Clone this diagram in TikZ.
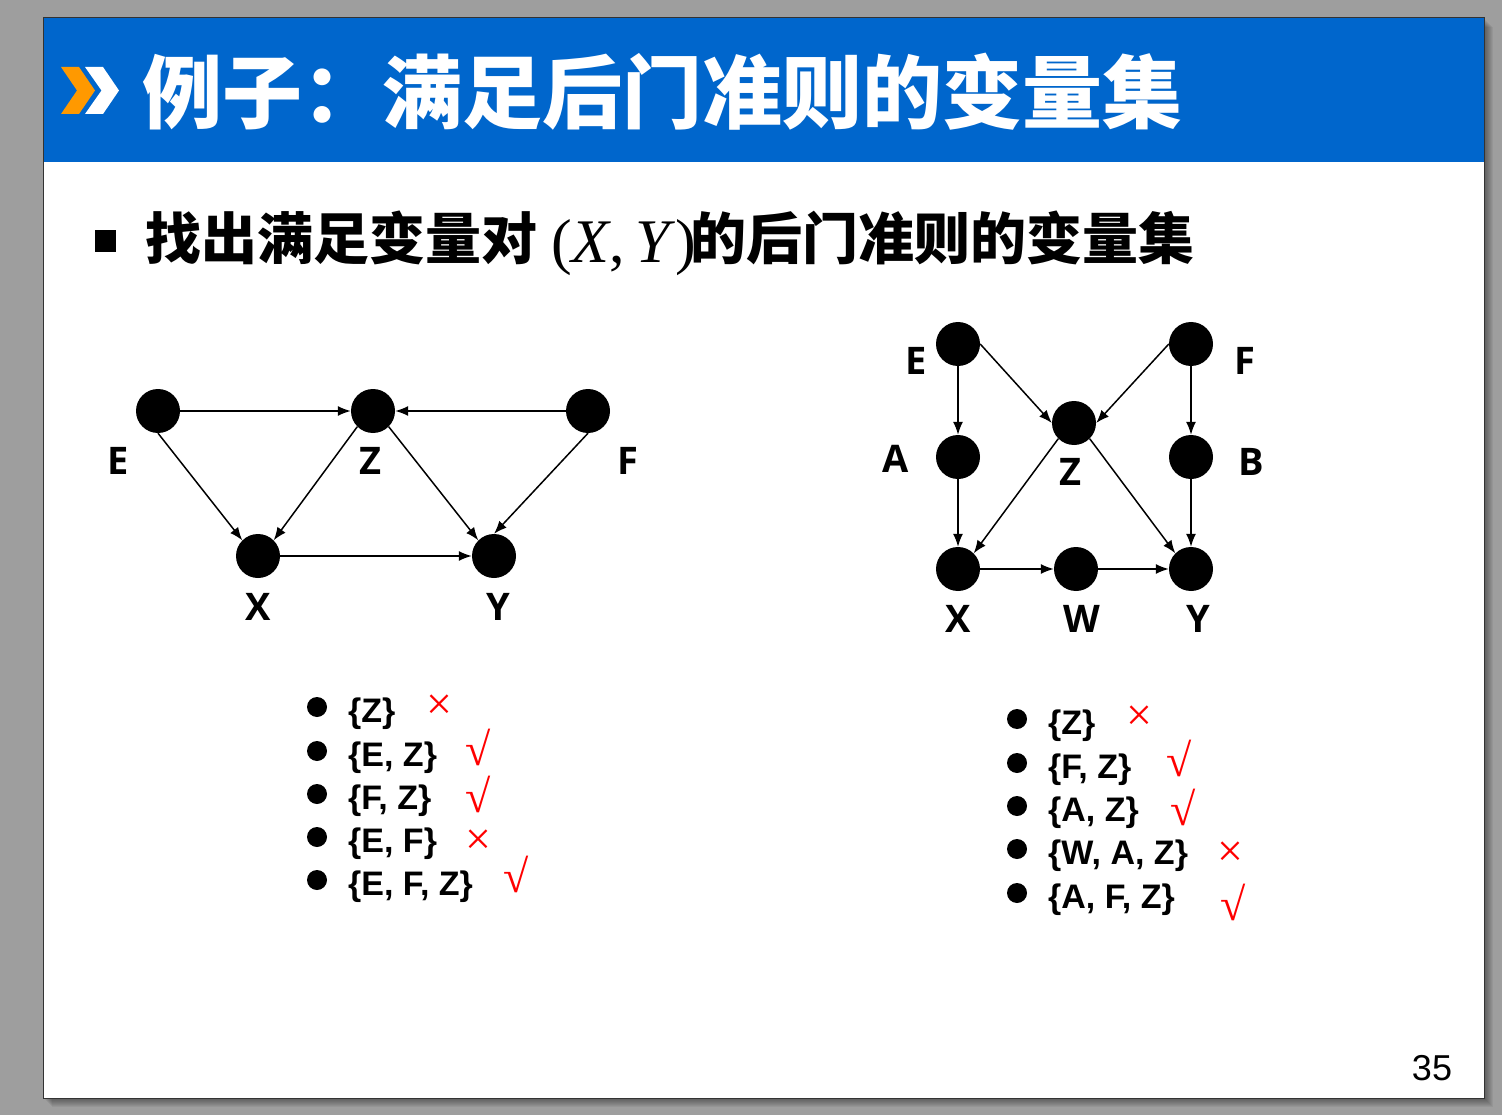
\documentclass[tikz,border=0pt]{standalone}
\usepackage{fontspec}
\setmainfont{Liberation Sans}
\newfontfamily\cjk{Noto Sans CJK SC}
\newfontfamily\serif{Liberation Serif}
\newfontfamily\labelfont{Open Sans}
\usetikzlibrary{arrows.meta}
\definecolor{headblue}{HTML}{0066CC}
\definecolor{pagegray}{RGB}{158,158,158}
\definecolor{chevorange}{HTML}{FF9900}
\definecolor{markred}{HTML}{FF0000}

\begin{document}
\begin{tikzpicture}[x=1pt,y=-1pt,
  vertex/.style={circle,fill=black,minimum size=44pt,inner sep=0pt},
  vlabel/.style={font=\labelfont\bfseries\fontsize{38}{38}\selectfont,inner sep=0pt},
  edge/.style={-{Latex[length=13pt,width=10pt]},line width=1.5pt},
  dot/.style={circle,fill=black,minimum size=20pt,inner sep=0pt},
  item/.style={anchor=base west,inner sep=0pt,font=\fontsize{34}{34}\selectfont\bfseries},
  cross/.style={text=markred,inner sep=0pt,font=\serif\fontsize{46}{46}\selectfont},
  tick/.style={text=markred,inner sep=0pt,font=\serif\fontsize{46}{46}\selectfont},
]
\useasboundingbox (0,0) rectangle (1502,1115);
% backdrop and slide with its drop shadow
\fill[pagegray] (0,0) rectangle (1502,1115);
\foreach \i in {1,...,9}
  \fill[black,opacity=0.05] (43+\i,18+\i) rectangle (1484+\i,1098+\i);
\fill[white] (43,18) rectangle (1484,1098);
\fill[headblue] (43,18) rectangle (1484,162);
\draw[gray!40!black,line width=1pt] (43,18) rectangle (1484,1098);

% header chevrons and title
\fill[chevorange] (61,67) -- (79,67) -- (95,90.5) -- (79,114) -- (61,114) -- (77,90.5) -- cycle;
\fill[white] (85,67) -- (103,67) -- (119,90.5) -- (103,114) -- (85,114) -- (101.5,90.5) -- cycle;
\node[anchor=base west,inner sep=0pt,text=white,font=\cjk\bfseries\fontsize{80}{80}\selectfont] (title) at (142,123) {例子：满足后门准则的变量集};

% question line
\fill (95,230) rectangle (116,252);
\node[anchor=base west,inner sep=0pt,font=\cjk\bfseries\fontsize{56}{56}\selectfont] (q1) at (145,260) {找出满足变量对};
\node[anchor=base west,inner sep=0pt,font=\serif\fontsize{62}{62}\selectfont] (q2) at (551,263) {(\textit{X},\,\textit{Y})};
\node[anchor=base west,inner sep=0pt,font=\cjk\bfseries\fontsize{56}{56}\selectfont] (q3) at (690,260) {的后门准则的变量集};

% left graph
\node[vertex] (lE) at (158,411) {};
\node[vertex] (lZ) at (373,411) {};
\node[vertex] (lF) at (588,411) {};
\node[vertex] (lX) at (258,556) {};
\node[vertex] (lY) at (494,556) {};
\node[vlabel] (lEl) at (118,461) {E};
\node[vlabel] (lZl) at (370,461) {Z};
\node[vlabel] (lFl) at (628,461) {F};
\node[vlabel] (lXl) at (258,607) {X};
\node[vlabel] (lYl) at (498,607) {Y};
\draw[edge] (lE.east) -- (lZ.west);
\draw[edge] (lF.west) -- (lZ.east);
\draw[edge] (lE.south) -- (lX.north west);
\draw[edge] (lZ.south west) -- (lX.north east);
\draw[edge] (lZ.south east) -- (lY.north west);
\draw[edge] (lF.south) -- (lY.north);
\draw[edge] (lX.east) -- (lY.west);

% right graph
\node[vertex] (rE) at (958,344) {};
\node[vertex] (rF) at (1191,344) {};
\node[vertex] (rZ) at (1074,423) {};
\node[vertex] (rA) at (958,457) {};
\node[vertex] (rB) at (1191,457) {};
\node[vertex] (rX) at (958,569) {};
\node[vertex] (rW) at (1076,569) {};
\node[vertex] (rY) at (1191,569) {};
\node[vlabel] (rEl) at (916,361) {E};
\node[vlabel] (rFl) at (1245,361) {F};
\node[vlabel] (rAl) at (896,459) {A};
\node[vlabel] (rZl) at (1070,472) {Z};
\node[vlabel] (rBl) at (1251,462) {B};
\node[vlabel] (rXl) at (958,619) {X};
\node[vlabel] (rWl) at (1082,619) {W};
\node[vlabel] (rYl) at (1198,619) {Y};
\draw[edge] (rE.south) -- (rA.north);
\draw[edge] (rE.east) -- (rZ.west);
\draw[edge] (rF.west) -- (rZ.east);
\draw[edge] (rF.south) -- (rB.north);
\draw[edge] (rA.south) -- (rX.north);
\draw[edge] (rZ.south west) -- (rX.north east);
\draw[edge] (rZ.south east) -- (rY.north west);
\draw[edge] (rB.south) -- (rY.north);
\draw[edge] (rX.east) -- (rW.west);
\draw[edge] (rW.east) -- (rY.west);

% left list
\node[dot] (la1) at (317,707) {};
\node[dot] (la2) at (317,751) {};
\node[dot] (la3) at (317,794) {};
\node[dot] (la4) at (317,837) {};
\node[dot] (la5) at (317,880) {};
\node[item] (lt1) at (348,722) {\{Z\}};
\node[item] (lt2) at (348,766) {\{E, Z\}};
\node[item] (lt3) at (348,809) {\{F, Z\}};
\node[item] (lt4) at (348,852) {\{E, F\}};
\node[item] (lt5) at (348,895) {\{E, F, Z\}};
\node[cross] (lm1) at (439,707) {×};
\node[tick] (lm2) at (478,747) {√};
\node[tick] (lm3) at (478,794) {√};
\node[cross] (lm4) at (478,842) {×};
\node[tick] (lm5) at (516,874) {√};

% right list
\node[dot] (ra1) at (1017,719) {};
\node[dot] (ra2) at (1017,763) {};
\node[dot] (ra3) at (1017,806) {};
\node[dot] (ra4) at (1017,849) {};
\node[dot] (ra5) at (1017,893) {};
\node[item] (rt1) at (1048,734) {\{Z\}};
\node[item] (rt2) at (1048,778) {\{F, Z\}};
\node[item] (rt3) at (1048,821) {\{A, Z\}};
\node[item] (rt4) at (1048,864) {\{W, A, Z\}};
\node[item] (rt5) at (1048,908) {\{A, F, Z\}};
\node[cross] (rm1) at (1139,718) {×};
\node[tick] (rm2) at (1179,758) {√};
\node[tick] (rm3) at (1183,807) {√};
\node[cross] (rm4) at (1230,854) {×};
\node[tick] (rm5) at (1233,902) {√};

% page number
\node[inner sep=0pt,font=\fontsize{36}{36}\selectfont] (page) at (1432,1068) {35};
\end{tikzpicture}
\end{document}
